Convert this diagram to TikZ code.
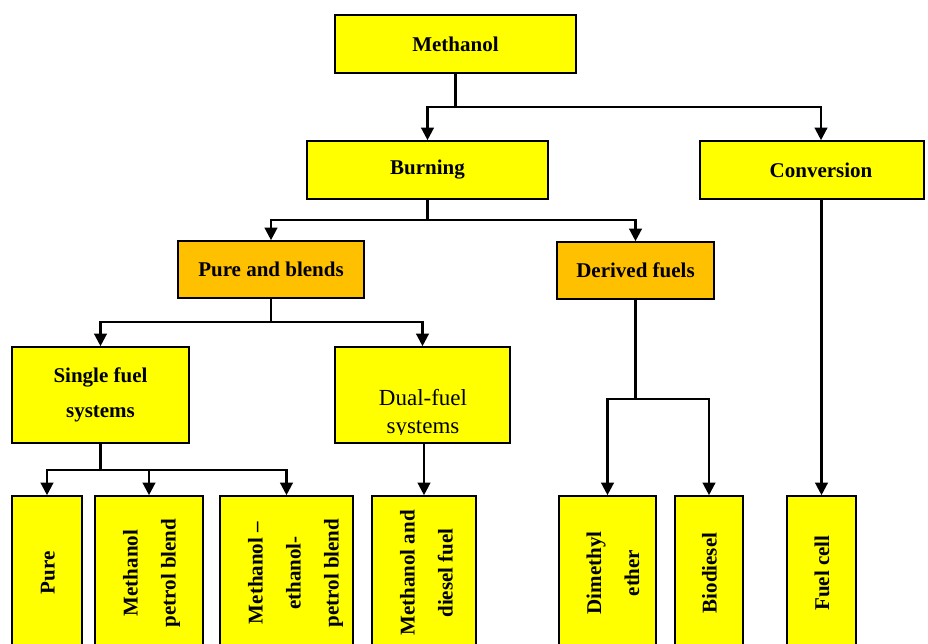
\documentclass[tikz,border=0pt]{standalone}
\IfFileExists{pplr8t.tfm}{%
  \usepackage[T1]{fontenc}
  \renewcommand{\rmdefault}{ppl}
  \newcommand{\bsize}{19.5}\newcommand{\rsize}{21.5}
}{%
  \usepackage{fontspec}
  \setmainfont{Liberation Serif}
  \newcommand{\bsize}{21}\newcommand{\rsize}{23}
}
\usepackage{graphicx}
\usetikzlibrary{arrows.meta}
\definecolor{boxyellow}{HTML}{FFFF00}
\definecolor{boxorange}{HTML}{FFC000}
\tikzset{
  box/.style={draw=black, line width=1.6pt, fill=boxyellow, inner sep=0pt,
    font=\fontsize{\bsize}{24}\selectfont\bfseries, align=center},
  orangebox/.style={box, fill=boxorange},
  link/.style={line width=2.3pt},
  arrowlink/.style={link, -{Triangle[width=12.5pt,length=12.5pt]}},
}
% upright box label turned to read from bottom to top
\newcommand{\vlabel}[1]{\rotatebox{90}{\fontsize{\bsize}{38}\selectfont\bfseries
  \begin{tabular}{@{}c@{}}#1\end{tabular}}}
\begin{document}
\begin{tikzpicture}[x=1pt, y=-1pt]
\useasboundingbox (0,0) rectangle (928,644);

% top levels
\node[box, minimum width=241pt, minimum height=58pt] (meth) at (455.5,44) {Methanol};
\node[box, minimum width=241pt, minimum height=58pt] (burn) at (427.5,170) {Burning};
\node[box, minimum width=224pt, minimum height=58pt] (conv) at (812,170) {\hspace*{18pt}Conversion};
\node[orangebox, minimum width=186pt, minimum height=57pt] (pab) at (271,269.5) {Pure and blends};
\node[orangebox, minimum width=157pt, minimum height=57pt] (der) at (635.5,270.5) {Derived fuels};

% fuel systems
\node[box, minimum width=177pt, minimum height=96pt,
  font=\fontsize{\bsize}{35}\selectfont\bfseries] (sf) at (100.5,395) {Single fuel\\systems};
\node[box, minimum width=175pt, minimum height=96pt] (dfbox) at (422.5,395) {};
\begin{scope}
  \clip (336,348) rectangle (509,434);
  \node[font=\fontsize{\rsize}{28}\selectfont, align=center, inner sep=0pt]
    (dftext) at (423,414) {Dual-fuel\\systems};
\end{scope}

% leaf boxes
\node[box, minimum width=70pt, minimum height=154pt] (pure) at (47,573) {\vlabel{Pure}};
\node[box, minimum width=108pt, minimum height=154pt] (mpb) at (149,573) {\vlabel{Methanol\\petrol blend}};
\node[box, minimum width=133pt, minimum height=154pt] (mepb) at (286.5,573)
  {\hspace*{13pt}\vlabel{Methanol --\\ethanol-\\petrol blend}};
\node[box, minimum width=104pt, minimum height=154pt] (mdf) at (424,573)
  {\hspace*{4pt}\vlabel{Methanol and\\diesel fuel}};
\node[box, minimum width=97pt, minimum height=154pt] (dme) at (607.5,573)
  {\hspace*{10pt}\vlabel{Dimethyl\\ether}};
\node[box, minimum width=68pt, minimum height=154pt] (bio) at (709,573) {\vlabel{Biodiesel}};
\node[box, minimum width=69pt, minimum height=154pt] (fuel) at (821.5,573) {\vlabel{Fuel cell}};

% junctions
\coordinate (j1) at (455.5,107);
\coordinate (j2) at (427.5,220);
\coordinate (j3) at (271,322);
\coordinate (j4) at (100.5,470);
\coordinate (j5) at (635.5,399);

% connectors
\draw[link] (meth) -- (j1);
\draw[arrowlink] (j1) -| (burn);
\draw[arrowlink] (j1) -| ([xshift=9pt]conv.north);

\draw[link] (burn) -- (j2);
\draw[arrowlink] (j2) -| (pab);
\draw[arrowlink] (j2) -| (der);

\draw[link] (pab) -- (j3);
\draw[arrowlink] (j3) -| (sf);
\draw[arrowlink] (j3) -| (dfbox);

\draw[link] (sf) -- (j4);
\draw[arrowlink] (j4) -| (pure);
\draw[arrowlink] (j4) -| (mpb);
\draw[arrowlink] (j4) -| (mepb);

\draw[arrowlink] (dfbox.south -| mdf) -- (mdf);

\draw[link] (der) -- (j5);
\draw[arrowlink] (j5) -| (dme);
\draw[arrowlink] (j5) -| (bio);

\draw[arrowlink] (conv.south -| fuel) -- (fuel);
\end{tikzpicture}
\end{document}
